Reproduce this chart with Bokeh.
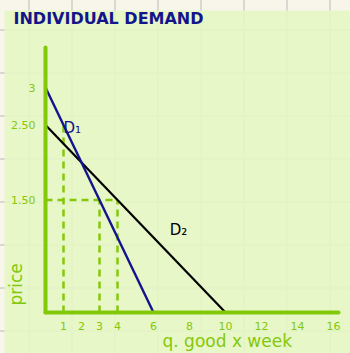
import math
from bokeh.plotting import figure
from bokeh.layouts import column
from bokeh.models import FixedTicker, Label
from bokeh.embed import file_html
from bokeh.resources import INLINE

# Demand schedules (quantity per week, price)
d1_q = [0, 6]
d1_p = [3, 0]
d2_q = [0, 10]
d2_p = [2.5, 0]

# Guide lines
guide_q = [1, 3, 4]
guide_p = [2.5, 1.5, 1.5]
level_p = 1.5
level_q = 4

x_ticks = [1, 2, 3, 4, 6, 8, 10, 12, 14, 16]
y_ticks = [1.5, 2.5, 3]
y_labels = {1.5: "1.50", 2.5: "2.50", 3: "3"}

GREEN = "#84c80a"
BLUE = "#14148c"
FONT = "DejaVu Sans"
PANEL = (230, 247, 196)

# The frame fills the whole sheet; the axes sit inside it at q = 0 and p = 0.
p = figure(width=346, height=343, x_range=(-2.278, 16.944), y_range=(-0.547, 4.027),
           output_backend="svg", toolbar_location=None, min_border=0)
p.margin = (10, 0, 0, 4)
p.title.visible = False
p.border_fill_color = PANEL
p.border_fill_alpha = 0.9
p.background_fill_color = PANEL
p.background_fill_alpha = 0.9
p.outline_line_color = None
p.grid.visible = False

for ax in (p.xaxis[0], p.yaxis[0]):
    ax.fixed_location = 0
    ax.axis_line_color = GREEN
    ax.axis_line_width = 4
    ax.axis_line_cap = "round"
    ax.major_tick_line_color = None
    ax.minor_tick_line_color = None
    ax.major_label_text_color = GREEN
    ax.major_label_text_font = FONT
    ax.major_label_text_font_size = "11px"

p.xaxis.ticker = FixedTicker(ticks=x_ticks)
p.xaxis.bounds = (0, 16.3)
p.xaxis.major_label_standoff = 4
p.yaxis.ticker = FixedTicker(ticks=y_ticks)
p.yaxis.bounds = (0, 3.53)
p.yaxis.major_label_overrides = y_labels
p.yaxis.major_label_standoff = 4

# Dashed guides
p.segment(x0=guide_q, y0=[0] * len(guide_q), x1=guide_q, y1=guide_p,
          line_color=GREEN, line_width=2.5, line_dash="7 5")
p.segment(x0=[0], y0=[level_p], x1=[level_q], y1=[level_p],
          line_color=GREEN, line_width=2.5, line_dash="7 5")

# Demand curves
p.line(d2_q, d2_p, line_color="black", line_width=2.2)
p.line(d1_q, d1_p, line_color=BLUE, line_width=2.4)

p.add_layout(Label(x=1.0, y=2.34, text="D₁", text_color=BLUE,
                   text_font=FONT, text_font_size="15px"))
p.add_layout(Label(x=6.9, y=0.98, text="D₂", text_color="black",
                   text_font=FONT, text_font_size="15px"))

p.add_layout(Label(x=9, y=326, x_units="screen", y_units="screen",
                   text="INDIVIDUAL DEMAND", text_color=BLUE,
                   text_font=FONT, text_font_size="16px",
                   text_font_style="bold"))
p.add_layout(Label(x=11, y=48, x_units="screen", y_units="screen",
                   angle=math.pi / 2, text="price", text_color=GREEN,
                   text_font=FONT, text_font_size="17px",
                   text_baseline="middle"))
p.add_layout(Label(x=158, y=3, x_units="screen", y_units="screen",
                   text="q. good x week", text_color=GREEN,
                   text_font=FONT, text_font_size="17px"))

paper = {
    "background-color": "#f8f6ea",
    "background-image": ("linear-gradient(to right, #d8d8d2 2px, transparent 2px),"
                         "linear-gradient(to bottom, #d8d8d2 2px, transparent 2px)"),
    "background-size": "43px 43px",
    "background-position": "28px 29px",
}
root = column(p, styles=paper)

open("out.html", "w").write(file_html(root, INLINE))
